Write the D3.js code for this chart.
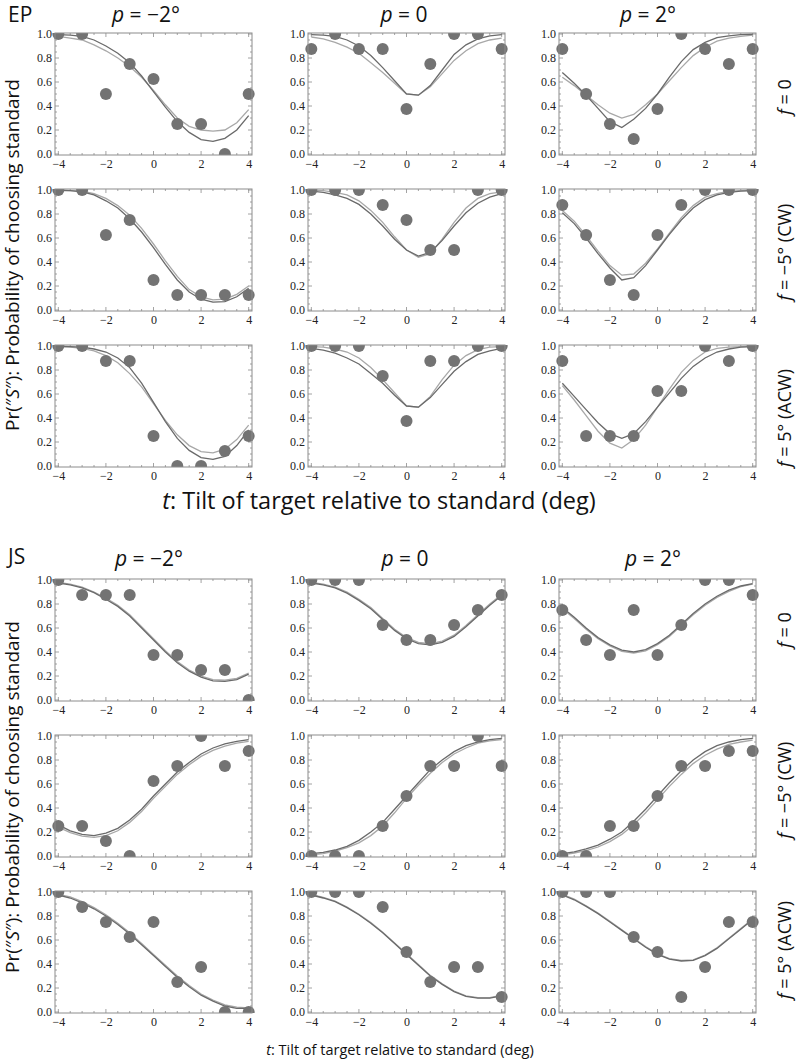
<!DOCTYPE html>
<html><head><meta charset="utf-8">
<script src="https://cdn.jsdelivr.net/npm/d3@7"></script>
<style>
html,body{margin:0;padding:0;background:#fff;}
svg{display:block;}
</style></head>
<body>
<svg id="chart" width="798" height="1064"></svg>
<script>
// ---------------- DATA ----------------
const subjects = ["EP", "JS"];
const pLabels = [["p", " = −2°"], ["p", " = 0"], ["p", " = 2°"]];
const fLabels = [["f", " = 0"], ["f", " = −5° (CW)"], ["f", " = 5° (ACW)"]];
const tObs = [-4, -3, -2, -1, 0, 1, 2, 3, 4];
const tFit = [-4, -3.5, -3, -2.5, -2, -1.5, -1, -0.5, 0, 0.5, 1, 1.5, 2, 2.5, 3, 3.5, 4];
const xTicks = [-4, -2, 0, 2, 4];
const yTicks = [0, 0.2, 0.4, 0.6, 0.8, 1.0];

// EP, f = 0
const EP_f0_pm2_obs = [1, 1, 0.5, 0.75, 0.625, 0.25, 0.25, 0, 0.5];
const EP_f0_pm2_fitA = [0.995,0.99,0.98,0.95,0.9,0.84,0.76,0.65,0.52,0.39,0.27,0.18,0.12,0.105,0.13,0.2,0.32];
const EP_f0_pm2_fitB = [0.98,0.965,0.95,0.91,0.86,0.8,0.73,0.64,0.53,0.41,0.3,0.23,0.2,0.19,0.2,0.26,0.37];
const EP_f0_p0_obs = [0.875, 1, 0.875, 0.875, 0.375, 0.75, 1, 1, 0.875];
const EP_f0_p0_fitA = [0.995,0.99,0.98,0.95,0.9,0.82,0.72,0.61,0.5,0.49,0.57,0.7,0.83,0.91,0.96,0.985,0.995];
const EP_f0_p0_fitB = [0.975,0.96,0.93,0.89,0.84,0.76,0.68,0.59,0.5,0.49,0.56,0.67,0.78,0.86,0.92,0.95,0.965];
const EP_f0_p2_obs = [0.875, 0.5, 0.25, 0.125, 0.375, 1, 0.875, 0.75, 0.875];
const EP_f0_p2_fitA = [0.68,0.59,0.49,0.38,0.27,0.22,0.29,0.38,0.5,0.64,0.77,0.87,0.93,0.97,0.985,0.995,0.998];
const EP_f0_p2_fitB = [0.64,0.57,0.49,0.41,0.34,0.3,0.33,0.41,0.5,0.61,0.72,0.82,0.89,0.94,0.965,0.98,0.99];
// EP, f = -5
const EP_fm5_pm2_obs = [1, 1, 0.625, 0.75, 0.25, 0.125, 0.125, 0.125, 0.125];
const EP_fm5_pm2_fitA = [0.998,0.995,0.985,0.96,0.91,0.85,0.76,0.65,0.52,0.38,0.25,0.15,0.09,0.065,0.07,0.11,0.18];
const EP_fm5_pm2_fitB = [0.998,0.995,0.99,0.97,0.93,0.87,0.79,0.68,0.55,0.41,0.28,0.17,0.11,0.085,0.09,0.13,0.2];
const EP_fm5_p0_obs = [1, 1, 1, 0.875, 0.75, 0.5, 0.5, 1, 1];
const EP_fm5_p0_fitA = [0.99,0.98,0.96,0.93,0.88,0.8,0.7,0.59,0.5,0.45,0.48,0.58,0.7,0.81,0.89,0.94,0.97];
const EP_fm5_p0_fitB = [0.998,0.995,0.98,0.96,0.91,0.83,0.73,0.61,0.5,0.44,0.47,0.59,0.73,0.85,0.93,0.97,0.985];
const EP_fm5_p2_obs = [0.875, 0.625, 0.25, 0.125, 0.625, 0.875, 1, 1, 1];
const EP_fm5_p2_fitA = [0.81,0.72,0.6,0.47,0.35,0.25,0.27,0.37,0.5,0.63,0.75,0.85,0.92,0.96,0.98,0.99,0.995];
const EP_fm5_p2_fitB = [0.83,0.74,0.62,0.49,0.37,0.29,0.3,0.39,0.51,0.64,0.77,0.87,0.94,0.97,0.99,0.995,0.998];
// EP, f = 5
const EP_f5_pm2_obs = [1, 1, 0.875, 0.875, 0.25, 0, 0, 0.125, 0.25];
const EP_f5_pm2_fitA = [0.998,0.995,0.99,0.975,0.95,0.9,0.82,0.69,0.53,0.37,0.23,0.13,0.07,0.055,0.08,0.17,0.3];
const EP_f5_pm2_fitB = [0.995,0.99,0.98,0.96,0.92,0.86,0.77,0.66,0.52,0.38,0.26,0.17,0.12,0.11,0.14,0.22,0.34];
const EP_f5_p0_obs = [1, 1, 1, 0.75, 0.375, 0.875, 0.875, 1, 1];
const EP_f5_p0_fitA = [0.98,0.965,0.94,0.9,0.85,0.77,0.69,0.59,0.5,0.49,0.57,0.68,0.79,0.87,0.93,0.96,0.98];
const EP_f5_p0_fitB = [0.995,0.99,0.975,0.95,0.9,0.82,0.72,0.61,0.5,0.49,0.58,0.72,0.84,0.92,0.97,0.99,0.995];
const EP_f5_p2_obs = [0.875, 0.25, 0.25, 0.25, 0.625, 0.625, 1, 0.875, 1];
const EP_f5_p2_fitA = [0.69,0.58,0.47,0.36,0.27,0.23,0.27,0.37,0.49,0.61,0.73,0.83,0.9,0.95,0.975,0.99,0.995];
const EP_f5_p2_fitB = [0.67,0.55,0.42,0.29,0.19,0.15,0.22,0.34,0.49,0.64,0.78,0.88,0.95,0.98,0.99,0.995,0.998];

// JS, f = 0
const JS_f0_pm2_obs = [1, 0.875, 0.875, 0.875, 0.375, 0.375, 0.25, 0.25, 0];
const JS_f0_pm2_fitA = [0.975,0.96,0.935,0.895,0.84,0.78,0.7,0.6,0.5,0.4,0.31,0.24,0.19,0.16,0.155,0.17,0.215];
const JS_f0_pm2_fitB = [0.98,0.965,0.94,0.9,0.85,0.79,0.71,0.61,0.51,0.41,0.32,0.25,0.2,0.17,0.165,0.18,0.225];
const JS_f0_p0_obs = [1, 1, 1, 0.625, 0.5, 0.5, 0.625, 0.75, 0.875];
const JS_f0_p0_fitA = [0.975,0.96,0.935,0.89,0.83,0.76,0.67,0.58,0.51,0.47,0.46,0.48,0.53,0.61,0.7,0.79,0.87];
const JS_f0_p0_fitB = [0.98,0.965,0.94,0.9,0.84,0.77,0.68,0.59,0.52,0.48,0.47,0.49,0.54,0.62,0.71,0.8,0.88];
const JS_f0_p2_obs = [0.75, 0.5, 0.375, 0.75, 0.375, 0.625, 1, 1, 0.875];
const JS_f0_p2_fitA = [0.77,0.69,0.6,0.52,0.46,0.415,0.4,0.42,0.47,0.54,0.63,0.72,0.8,0.865,0.915,0.95,0.97];
const JS_f0_p2_fitB = [0.76,0.68,0.59,0.51,0.45,0.405,0.39,0.41,0.46,0.53,0.62,0.71,0.79,0.855,0.905,0.945,0.965];
// JS, f = -5
const JS_fm5_pm2_obs = [0.25, 0.25, 0.125, 0, 0.625, 0.75, 1, 0.75, 0.875];
const JS_fm5_pm2_fitA = [0.26,0.21,0.18,0.17,0.19,0.23,0.3,0.39,0.5,0.6,0.7,0.78,0.85,0.9,0.935,0.955,0.97];
const JS_fm5_pm2_fitB = [0.24,0.195,0.165,0.155,0.17,0.21,0.28,0.37,0.48,0.58,0.68,0.76,0.83,0.88,0.915,0.94,0.955];
const JS_fm5_p0_obs = [0, 0, 0, 0.25, 0.5, 0.75, 0.75, 1, 0.75];
const JS_fm5_p0_fitA = [0.02,0.03,0.05,0.08,0.13,0.2,0.28,0.39,0.5,0.61,0.72,0.8,0.87,0.92,0.95,0.97,0.98];
const JS_fm5_p0_fitB = [0.01,0.02,0.04,0.07,0.11,0.17,0.25,0.36,0.48,0.59,0.69,0.78,0.85,0.9,0.94,0.96,0.97];
const JS_fm5_p2_obs = [0, 0, 0.25, 0.25, 0.5, 0.75, 0.75, 0.875, 0.875];
const JS_fm5_p2_fitA = [0.02,0.035,0.06,0.09,0.14,0.2,0.29,0.39,0.5,0.61,0.71,0.8,0.87,0.92,0.95,0.97,0.98];
const JS_fm5_p2_fitB = [0.01,0.025,0.045,0.075,0.12,0.18,0.26,0.36,0.47,0.58,0.68,0.77,0.84,0.89,0.93,0.95,0.965];
// JS, f = 5
const JS_f5_pm2_obs = [1, 0.875, 0.75, 0.625, 0.75, 0.25, 0.375, 0, 0];
const JS_f5_pm2_fitA = [0.975,0.95,0.91,0.86,0.8,0.73,0.65,0.56,0.47,0.38,0.29,0.21,0.14,0.09,0.05,0.03,0.03];
const JS_f5_pm2_fitB = [0.98,0.96,0.92,0.87,0.81,0.74,0.66,0.57,0.48,0.39,0.3,0.22,0.15,0.1,0.06,0.04,0.035];
const JS_f5_p0_obs = [1, 1, 1, 0.875, 0.5, 0.25, 0.375, 0.375, 0.125];
const JS_f5_p0_fitA = [0.975,0.95,0.92,0.87,0.81,0.74,0.66,0.57,0.48,0.39,0.3,0.23,0.17,0.13,0.115,0.115,0.135];
const JS_f5_p0_fitB = [0.98,0.955,0.925,0.875,0.815,0.745,0.665,0.575,0.485,0.395,0.305,0.235,0.175,0.135,0.12,0.12,0.14];
const JS_f5_p2_obs = [1, 1, 1, 0.625, 0.5, 0.125, 0.375, 0.75, 0.75];
const JS_f5_p2_fitA = [0.975,0.935,0.88,0.82,0.75,0.68,0.61,0.54,0.48,0.44,0.425,0.43,0.47,0.53,0.61,0.69,0.77];
const JS_f5_p2_fitB = [0.98,0.94,0.885,0.825,0.755,0.685,0.615,0.545,0.485,0.445,0.43,0.435,0.475,0.535,0.615,0.695,0.775];

const panelData = {
  EP: [
    [[EP_f0_pm2_obs, EP_f0_pm2_fitA, EP_f0_pm2_fitB], [EP_f0_p0_obs, EP_f0_p0_fitA, EP_f0_p0_fitB], [EP_f0_p2_obs, EP_f0_p2_fitA, EP_f0_p2_fitB]],
    [[EP_fm5_pm2_obs, EP_fm5_pm2_fitA, EP_fm5_pm2_fitB], [EP_fm5_p0_obs, EP_fm5_p0_fitA, EP_fm5_p0_fitB], [EP_fm5_p2_obs, EP_fm5_p2_fitA, EP_fm5_p2_fitB]],
    [[EP_f5_pm2_obs, EP_f5_pm2_fitA, EP_f5_pm2_fitB], [EP_f5_p0_obs, EP_f5_p0_fitA, EP_f5_p0_fitB], [EP_f5_p2_obs, EP_f5_p2_fitA, EP_f5_p2_fitB]]
  ],
  JS: [
    [[JS_f0_pm2_obs, JS_f0_pm2_fitA, JS_f0_pm2_fitB], [JS_f0_p0_obs, JS_f0_p0_fitA, JS_f0_p0_fitB], [JS_f0_p2_obs, JS_f0_p2_fitA, JS_f0_p2_fitB]],
    [[JS_fm5_pm2_obs, JS_fm5_pm2_fitA, JS_fm5_pm2_fitB], [JS_fm5_p0_obs, JS_fm5_p0_fitA, JS_fm5_p0_fitB], [JS_fm5_p2_obs, JS_fm5_p2_fitA, JS_fm5_p2_fitB]],
    [[JS_f5_pm2_obs, JS_f5_pm2_fitA, JS_f5_pm2_fitB], [JS_f5_p0_obs, JS_f5_p0_fitA, JS_f5_p0_fitB], [JS_f5_p2_obs, JS_f5_p2_fitA, JS_f5_p2_fitB]]
  ]
};

// ---------------- LAYOUT ----------------
const svg = d3.select("#chart");
const SANS = "'Open Sans', 'Noto Sans', sans-serif";
const SERIF = "'Liberation Serif', 'DejaVu Serif', serif";
const colLeft = [55, 308, 559];
const panelW = 197, panelH = 122;
const blockTop = { EP: [33, 189, 345], JS: [579, 735, 891] };
const headerY = { EP: 22, JS: 566 };
const headerX = { EP: [146, 404, 648], JS: [149, 405, 653] };
const subjLabelY = { EP: 22, JS: 564 };
const fLabelY = { EP: [97, 252, 418], JS: [630, 790, 950] };
const yTitleY = { EP: 255, JS: 797 };
const xTitle = { EP: { x: 379, y: 509, size: 23.5 }, JS: { x: 400, y: 1055, size: 14.5 } };

const C_DOT = "#737373", C_A = "#6a6a6a", C_B = "#a8a8a8", C_FRAME = "#8c8c8c";

let clipId = 0;

function drawPanel(g, left, top, data) {
  const [obs, fitA, fitB] = data;
  const x = d3.scaleLinear().domain([-4.14, 4.14]).range([left, left + panelW]);
  const y = d3.scaleLinear().domain([-1 / 120, 1 + 1 / 120]).range([top + panelH, top]);

  // minor / major ticks inward on all four sides
  const xMinor = d3.range(-4, 4.001, 0.5);
  const yMinor = d3.range(0, 1.0001, 0.05);
  const tg = g.append("g").attr("stroke", C_FRAME).attr("stroke-width", 0.8);
  xMinor.forEach(v => {
    const major = Math.abs(v % 2) < 1e-6;
    const L = major ? 4 : 2;
    tg.append("line").attr("x1", x(v)).attr("x2", x(v)).attr("y1", top + panelH).attr("y2", top + panelH - L);
    tg.append("line").attr("x1", x(v)).attr("x2", x(v)).attr("y1", top).attr("y2", top + L);
  });
  yMinor.forEach(v => {
    const major = Math.abs((v * 5) - Math.round(v * 5)) < 1e-6;
    const L = major ? 4 : 2;
    tg.append("line").attr("y1", y(v)).attr("y2", y(v)).attr("x1", left).attr("x2", left + L);
    tg.append("line").attr("y1", y(v)).attr("y2", y(v)).attr("x1", left + panelW).attr("x2", left + panelW - L);
  });

  // tick labels via d3 axes (tick lines hidden)
  const xAxis = d3.axisBottom(x).tickValues(xTicks).tickSize(0).tickPadding(4)
    .tickFormat(d => (d < 0 ? "−" + Math.abs(d) : "" + d));
  const gx = g.append("g").attr("transform", `translate(0,${top + panelH})`).call(xAxis);
  const yAxis = d3.axisLeft(y).tickValues(yTicks).tickSize(0).tickPadding(3).tickFormat(d3.format(".1f"));
  const gy = g.append("g").attr("transform", `translate(${left},0)`).call(yAxis);
  [gx, gy].forEach(a => {
    a.select(".domain").remove();
    a.selectAll("text").attr("font-family", SERIF).attr("font-size", 12).attr("fill", "#222");
  });

  // clip
  const id = "clip" + (clipId++);
  g.append("clipPath").attr("id", id).append("rect")
    .attr("x", left - 12).attr("y", top).attr("width", panelW + 24).attr("height", panelH);
  const inner = g.append("g").attr("clip-path", `url(#${id})`);

  const line = d3.line().x((d, i) => x(tFit[i])).y(d => y(d));
  inner.append("path").datum(fitB).attr("d", line).attr("fill", "none")
    .attr("stroke", C_B).attr("stroke-width", 1.3);
  inner.append("path").datum(fitA).attr("d", line).attr("fill", "none")
    .attr("stroke", C_A).attr("stroke-width", 1.3);
  inner.selectAll("circle").data(obs).join("circle")
    .attr("cx", (d, i) => x(tObs[i])).attr("cy", d => y(d)).attr("r", 6).attr("fill", C_DOT);

  // frame
  g.append("rect").attr("x", left).attr("y", top).attr("width", panelW).attr("height", panelH)
    .attr("fill", "none").attr("stroke", C_FRAME).attr("stroke-width", 1);
}

function richText(g, parts, size, attrs) {
  const t = g.append("text").attr("font-family", SANS).attr("font-size", size).attr("fill", "#111");
  Object.entries(attrs).forEach(([k, v]) => t.attr(k, v));
  t.append("tspan").attr("font-style", "italic").text(parts[0]);
  t.append("tspan").text(parts[1]);
  return t;
}

subjects.forEach(s => {
  const g = svg.append("g");
  // subject label
  g.append("text").attr("x", 8).attr("y", subjLabelY[s]).attr("font-family", SANS)
    .attr("font-size", 21).attr("fill", "#111").text(s);
  // column headers
  pLabels.forEach((pl, c) => {
    richText(g, pl, 21, { x: headerX[s][c], y: headerY[s], "text-anchor": "middle" });
  });
  // panels
  panelData[s].forEach((row, r) => {
    row.forEach((cell, c) => drawPanel(g, colLeft[c], blockTop[s][r], cell));
    // row label
    richText(g, fLabels[r], 18, { transform: `translate(791,${fLabelY[s][r]}) rotate(-90)`, "text-anchor": "middle" });
  });
  // y title
  const yt = g.append("text").attr("font-family", SANS).attr("font-size", 19).attr("fill", "#111")
    .attr("text-anchor", "middle").attr("transform", `translate(19,${yTitleY[s]}) rotate(-90)`);
  yt.append("tspan").text("Pr(″");
  yt.append("tspan").attr("font-style", "italic").text("S");
  yt.append("tspan").text("″): Probability of choosing standard");
  // x title
  const xt = g.append("text").attr("font-family", SANS).attr("font-size", xTitle[s].size).attr("fill", "#111")
    .attr("text-anchor", "middle").attr("x", xTitle[s].x).attr("y", xTitle[s].y);
  xt.append("tspan").attr("font-style", "italic").text("t");
  xt.append("tspan").text(": Tilt of target relative to standard (deg)");
});
</script>
</body></html>
